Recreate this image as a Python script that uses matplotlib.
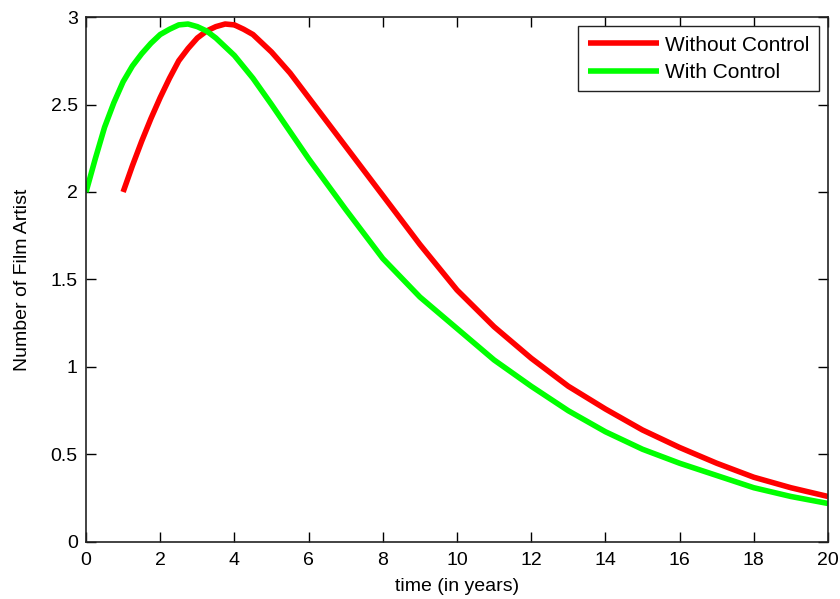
import numpy as np
import matplotlib.pyplot as plt

plt.rcParams['font.family'] = ['Liberation Sans', 'DejaVu Sans']

# values
t_without = [1.0, 1.25, 1.5, 1.75, 2.0, 2.25, 2.5, 2.75, 3.0, 3.25, 3.5, 3.75, 4.0, 4.25, 4.5,
             5.0, 5.5, 6.0, 7.0, 8.0, 9.0, 10.0, 11.0, 12.0, 13.0, 14.0, 15.0, 16.0, 17.0,
             18.0, 19.0, 20.0]
without_ctrl = [2.0, 2.15, 2.29, 2.42, 2.54, 2.65, 2.75, 2.82, 2.88, 2.92, 2.945, 2.96, 2.955, 2.93, 2.9,
                2.8, 2.68, 2.54, 2.26, 1.98, 1.7, 1.44, 1.23, 1.05, 0.89, 0.76, 0.64, 0.54, 0.45,
                0.37, 0.31, 0.26]

t_with = [0.0, 0.25, 0.5, 0.75, 1.0, 1.25, 1.5, 1.75, 2.0, 2.25, 2.5, 2.75, 3.0, 3.25, 3.5, 3.75,
          4.0, 4.5, 5.0, 6.0, 7.0, 8.0, 9.0, 10.0, 11.0, 12.0, 13.0, 14.0, 15.0, 16.0, 17.0,
          18.0, 19.0, 20.0]
with_ctrl = [2.0, 2.19, 2.37, 2.51, 2.63, 2.72, 2.79, 2.85, 2.9, 2.93, 2.955, 2.96, 2.945, 2.92, 2.88, 2.83,
             2.78, 2.65, 2.5, 2.19, 1.9, 1.62, 1.4, 1.22, 1.04, 0.89, 0.75, 0.63, 0.53, 0.45, 0.38,
             0.31, 0.26, 0.22]

fig = plt.figure(figsize=(8.4, 5.99), dpi=100)
ax = fig.add_axes([0.1024, 0.0952, 0.8833, 0.8764])

ax.plot(t_without, without_ctrl, color=(1, 0, 0), lw=4, label='Without Control',
        solid_capstyle='butt')
ax.plot(t_with, with_ctrl, color=(0, 1, 0), lw=4, label='With Control',
        solid_capstyle='butt')

ax.set_xlim(0, 20)
ax.set_ylim(0, 3)
ax.set_xticks(np.arange(0, 21, 2))
ax.set_yticks(np.arange(0, 3.01, 0.5))
ax.set_yticklabels(['0', '0.5', '1', '1.5', '2', '2.5', '3'])
ax.tick_params(direction='in', top=True, right=True, length=7, width=1, labelsize=14)
ax.tick_params(axis='y', pad=6)
ax.tick_params(axis='x', pad=7)
for s in ax.spines.values():
    s.set_linewidth(1.2)
    s.set_color('#222222')

ax.set_xlabel('time (in years)', fontsize=14, labelpad=7)
ax.set_ylabel('Number of Film Artist', fontsize=14, labelpad=14)

leg = ax.legend(loc='upper right', fontsize=15, fancybox=False, framealpha=1,
                edgecolor='#222222', borderaxespad=0.45, handlelength=3.4, handletextpad=0.3,
                labelspacing=0.4, borderpad=0.45)
leg.get_frame().set_linewidth(1.0)

fig.savefig('out.png', dpi=100)
